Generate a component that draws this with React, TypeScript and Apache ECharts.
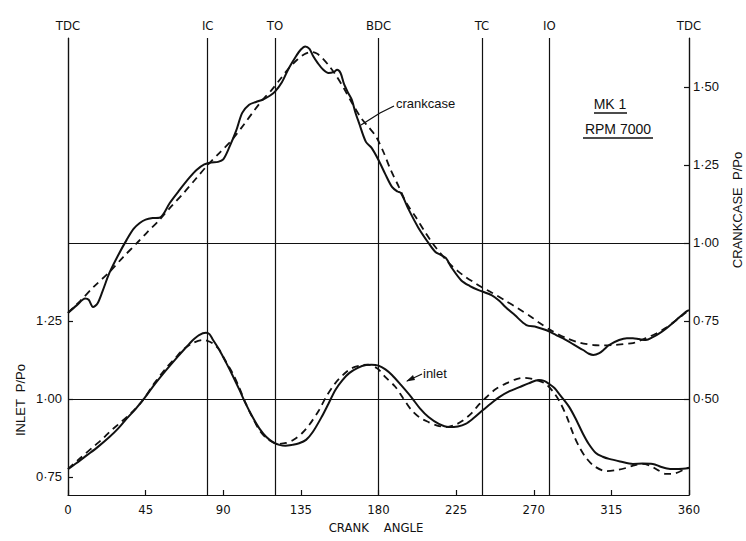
import React, { useEffect, useRef } from "react";
import * as echarts from "echarts";

// Crank angle (deg) vs pressure ratio P/Po
const crankcaseMeasured: number[][] = [
  [0, 0.776], [5, 0.8], [10, 0.822], [12, 0.818], [14.5, 0.795], [17, 0.805], [20, 0.845],
  [24, 0.904], [29, 0.96], [34, 1.01], [38, 1.045], [41.6, 1.064], [45, 1.075], [49, 1.08],
  [53, 1.081], [55, 1.09], [59, 1.128], [64.7, 1.17], [70.5, 1.21], [74.5, 1.234], [79, 1.252],
  [83, 1.258], [87, 1.26], [90, 1.268], [93.6, 1.308], [97.5, 1.36], [101, 1.417], [105, 1.443],
  [109, 1.452], [113, 1.46], [117, 1.472], [120, 1.485], [124, 1.515], [128, 1.56], [132, 1.597],
  [135, 1.62], [137.5, 1.63], [140, 1.622], [142, 1.6], [145, 1.575], [148, 1.555], [151, 1.545],
  [154, 1.548], [156, 1.555], [158, 1.545], [160, 1.51], [162.5, 1.48], [164.6, 1.458],
  [166.5, 1.42], [168.7, 1.385], [172.7, 1.324], [176, 1.305], [180, 1.266], [184, 1.22],
  [187.8, 1.18], [191, 1.165], [193, 1.16], [197.6, 1.106], [203, 1.05], [209, 1.0], [213, 0.971],
  [216, 0.962], [219, 0.952], [222.5, 0.92], [228, 0.88], [233, 0.862], [238, 0.849],
  [245.5, 0.833], [250, 0.815], [253.6, 0.795], [259, 0.769], [265.7, 0.737], [271.5, 0.731],
  [277, 0.721], [283, 0.705], [288.8, 0.689], [293, 0.675], [298.6, 0.657], [302, 0.645],
  [304.5, 0.641], [308, 0.647], [311, 0.66], [313.7, 0.673], [319.5, 0.689], [324, 0.695],
  [327.5, 0.695], [331, 0.692], [335, 0.689], [339, 0.698], [343, 0.711], [347, 0.727],
  [350.7, 0.744], [354, 0.76], [358, 0.779], [360, 0.785],
];

const crankcaseComputed: number[][] = [
  [0, 0.776], [7, 0.814], [15, 0.86], [24, 0.907], [32, 0.955], [40, 1.0], [46, 1.035],
  [53, 1.074], [60, 1.118], [67, 1.16], [74, 1.205], [81, 1.25], [88, 1.29], [95, 1.33],
  [102, 1.38], [108, 1.425], [113, 1.46], [118, 1.49], [123, 1.525], [128, 1.56], [133, 1.588],
  [137, 1.605], [141, 1.612], [144, 1.608], [147, 1.595], [151, 1.57], [155, 1.54], [160, 1.495],
  [165, 1.445], [170, 1.4], [174.5, 1.37], [178.7, 1.34], [183, 1.29], [187, 1.235],
  [191.8, 1.18], [196, 1.13], [201.6, 1.083], [207, 1.035], [213, 0.987], [220.7, 0.936],
  [226, 0.91], [230, 0.893], [235, 0.875], [239.7, 0.859], [246, 0.84], [253.6, 0.815],
  [261, 0.79], [268.6, 0.763], [273, 0.745], [280, 0.72], [289, 0.695], [297, 0.68],
  [304.5, 0.673], [310, 0.672], [316, 0.673], [322, 0.676], [327.5, 0.679], [331, 0.686],
  [335, 0.695], [341, 0.71], [346.6, 0.728], [352, 0.75], [358, 0.776], [360, 0.785],
];

const inletMeasured: number[][] = [
  [0, 0.775], [5, 0.795], [11, 0.82], [17, 0.845], [24, 0.878], [29, 0.905], [34, 0.937],
  [39, 0.967], [43.5, 0.997], [50, 1.045], [57, 1.093], [63, 1.132], [68.7, 1.167], [72, 1.187],
  [76, 1.205], [80, 1.212], [82, 1.208], [84, 1.19], [88, 1.155], [91.8, 1.115], [95, 1.08],
  [99.4, 1.029], [103, 0.985], [107, 0.942], [111, 0.905], [115, 0.878], [119, 0.861],
  [122.5, 0.853], [126, 0.85], [130, 0.853], [134, 0.858], [138, 0.869], [142, 0.895],
  [147, 0.942], [151, 0.985], [155, 1.029], [159, 1.06], [163, 1.083], [168, 1.1],
  [172.7, 1.109], [176, 1.11], [180, 1.107], [184, 1.095], [187.8, 1.077], [193, 1.045],
  [199, 1.006], [204, 0.97], [209, 0.942], [215, 0.92], [220.7, 0.91], [226, 0.912],
  [230.5, 0.92], [235, 0.938], [240, 0.962], [245, 0.985], [250, 1.006], [256, 1.025],
  [261.7, 1.038], [267, 1.05], [273, 1.061], [276, 1.058], [279, 1.048], [282, 1.035],
  [284.8, 1.016], [287.5, 0.997], [290.6, 0.974], [294, 0.94], [298.6, 0.888], [302, 0.855],
  [306, 0.827], [310, 0.815], [313.7, 0.808], [320, 0.8], [327.5, 0.792], [333, 0.793],
  [339, 0.792], [344, 0.782], [349, 0.776], [354, 0.776], [360, 0.779],
];

const inletComputed: number[][] = [
  [0, 0.776], [7, 0.81], [14.5, 0.846], [20, 0.872], [24, 0.894], [29, 0.918], [34, 0.942],
  [39, 0.968], [43.5, 0.997], [50, 1.05], [57, 1.1], [62, 1.13], [66.5, 1.157], [72, 1.178],
  [78, 1.189], [80, 1.188], [84, 1.178], [87.8, 1.157], [91, 1.125], [95.4, 1.083], [99, 1.04],
  [103, 0.987], [107, 0.94], [111, 0.9], [115, 0.875], [118.5, 0.862], [122, 0.856],
  [126.5, 0.859], [131, 0.87], [135.8, 0.891], [140, 0.918], [145.6, 0.965], [150, 1.01],
  [155, 1.051], [160, 1.08], [164.6, 1.099], [170, 1.108], [174, 1.11], [177, 1.105],
  [180, 1.095], [184, 1.07], [189.6, 1.04], [194, 1.005], [199, 0.965], [204, 0.94],
  [209, 0.926], [214, 0.915], [219, 0.91], [224, 0.916], [228.7, 0.93], [234, 0.955],
  [238.6, 0.984], [243, 1.008], [248, 1.032], [254, 1.05], [260, 1.064], [264, 1.068],
  [267.5, 1.066], [272, 1.06], [277, 1.048], [281, 1.025], [284.8, 0.994], [289, 0.945],
  [292.9, 0.888], [296.5, 0.845], [300.4, 0.811], [305, 0.785], [312, 0.769], [318, 0.772],
  [323.5, 0.779], [328, 0.787], [333, 0.792], [338, 0.785], [342, 0.772], [346.6, 0.76],
  [352, 0.762], [358, 0.776], [360, 0.78],
];

// Port timing events along the crank cycle
const events: { name: string; angle: number }[] = [
  { name: "TDC", angle: 0 },
  { name: "IC", angle: 81 },
  { name: "TO", angle: 120 },
  { name: "BDC", angle: 180 },
  { name: "TC", angle: 240 },
  { name: "IO", angle: 279 },
  { name: "TDC", angle: 360 },
];

const inletTicks = [0.75, 1.0, 1.25];
const crankcaseTicks = [0.5, 0.75, 1.0, 1.25, 1.5];
const crankcaseRefLines = [1.0, 0.5];

const INK = "#111";
const NARROW = '"DejaVu Sans Condensed", "Liberation Sans Narrow", "DejaVu Sans", sans-serif';
const SANS = '"Liberation Sans", Arial, sans-serif';

const fmt = (v: number) => v.toFixed(2).replace(".", "·");

export default function App() {
  const ref = useRef<HTMLDivElement>(null);

  useEffect(() => {
    document.body.style.margin = "0";
    if (!ref.current) return;
    const chart = echarts.init(ref.current, undefined, { renderer: "svg" });

    const solid = { color: INK, width: 2 };
    const dashed = { color: INK, width: 1.8, type: [7, 5] as number[] };

    chart.setOption({
      animation: false,
      backgroundColor: "#fff",
      grid: { left: 68, right: 57, top: 38, bottom: 46 },
      xAxis: {
        type: "value",
        min: 0,
        max: 360,
        interval: 45,
        axisLine: { lineStyle: { color: INK, width: 1.2 } },
        axisTick: { inside: true, length: 5, lineStyle: { color: INK, width: 1.2 } },
        axisLabel: { color: INK, fontSize: 13, fontFamily: NARROW, margin: 8 },
        splitLine: { show: false },
      },
      yAxis: [
        {
          type: "value",
          position: "left",
          min: 0.6923,
          max: 2.157,
          axisLine: { show: true, lineStyle: { color: INK, width: 1.2 } },
          axisTick: { show: true, inside: true, length: 5, customValues: inletTicks, lineStyle: { color: INK, width: 1.2 } },
          axisLabel: { customValues: inletTicks, formatter: fmt, color: INK, fontSize: 13, fontFamily: SANS, margin: 6 },
          splitLine: { show: false },
        },
        {
          type: "value",
          position: "right",
          min: 0.1923,
          max: 1.657,
          axisLine: { show: true, lineStyle: { color: INK, width: 1.2 } },
          axisTick: { show: true, inside: true, length: 5, customValues: crankcaseTicks, lineStyle: { color: INK, width: 1.2 } },
          axisLabel: { customValues: crankcaseTicks, formatter: fmt, color: INK, fontSize: 13, fontFamily: SANS, margin: 4 },
          splitLine: { show: false },
        },
      ],
      series: [
        {
          name: "inlet measured",
          type: "line",
          yAxisIndex: 0,
          data: inletMeasured,
          showSymbol: false,
          smooth: 0.3,
          lineStyle: solid,
          z: 3,
          markLine: {
            silent: true,
            symbol: ["none", "none"],
            lineStyle: { color: INK, width: 1.2, type: "solid" },
            label: {
              show: true,
              position: "end",
              formatter: "{b}",
              color: INK,
              fontSize: 13,
              fontFamily: NARROW,
              distance: 6,
            },
            data: events.map((e) => ({ name: e.name, xAxis: e.angle })),
          },
        },
        {
          name: "inlet computed",
          type: "line",
          yAxisIndex: 0,
          data: inletComputed,
          showSymbol: false,
          smooth: 0.3,
          lineStyle: dashed,
          z: 3,
        },
        {
          name: "crankcase measured",
          type: "line",
          yAxisIndex: 1,
          data: crankcaseMeasured,
          showSymbol: false,
          smooth: 0.3,
          lineStyle: solid,
          z: 3,
          markLine: {
            silent: true,
            symbol: ["none", "none"],
            lineStyle: { color: INK, width: 1.2, type: "solid" },
            label: { show: false },
            data: crankcaseRefLines.map((v) => ({ yAxis: v })),
          },
        },
        {
          name: "crankcase computed",
          type: "line",
          yAxisIndex: 1,
          data: crankcaseComputed,
          showSymbol: false,
          smooth: 0.3,
          lineStyle: dashed,
          z: 3,
        },
      ],
      graphic: [
        {
          type: "text",
          x: 20,
          y: 400,
          rotation: Math.PI / 2,
          style: { text: "INLET  P/Po", fontSize: 13, fontFamily: SANS, fill: INK, align: "center", verticalAlign: "middle" },
        },
        {
          type: "text",
          x: 737,
          y: 210,
          rotation: Math.PI / 2,
          style: { text: "CRANKCASE  P/Po", fontSize: 13, fontFamily: SANS, fill: INK, align: "center", verticalAlign: "middle" },
        },
        {
          type: "text",
          x: 376,
          y: 527,
          style: { text: "CRANK    ANGLE", fontSize: 13, fontFamily: NARROW, fill: INK, align: "center", verticalAlign: "middle" },
        },
        {
          type: "text",
          x: 610,
          y: 104,
          style: { text: "MK 1", fontSize: 14, fontFamily: SANS, fill: INK, align: "center", verticalAlign: "middle" },
        },
        { type: "line", shape: { x1: 594, y1: 113, x2: 627, y2: 113 }, style: { stroke: INK, lineWidth: 1.5 } },
        {
          type: "text",
          x: 618,
          y: 129,
          style: { text: "RPM 7000", fontSize: 14, fontFamily: SANS, fill: INK, align: "center", verticalAlign: "middle" },
        },
        { type: "line", shape: { x1: 583, y1: 138, x2: 653, y2: 138 }, style: { stroke: INK, lineWidth: 1.5 } },
        {
          type: "text",
          x: 396,
          y: 103,
          style: { text: "crankcase", fontSize: 13, fontFamily: SANS, fill: INK, align: "left", verticalAlign: "middle" },
        },
        { type: "polyline", shape: { points: [[394, 106], [380, 113], [361, 125]] }, style: { stroke: INK, lineWidth: 1.3, fill: "none" } },
        {
          type: "text",
          x: 423,
          y: 373,
          style: { text: "inlet", fontSize: 13, fontFamily: SANS, fill: INK, align: "left", verticalAlign: "middle" },
        },
        { type: "line", shape: { x1: 422, y1: 374, x2: 407, y2: 381 }, style: { stroke: INK, lineWidth: 1.3 } },
        { type: "polygon", shape: { points: [[406, 381.5], [413, 375], [415, 380]] }, style: { fill: INK } },
      ],
    });

    return () => chart.dispose();
  }, []);

  return <div ref={ref} style={{ width: 746, height: 541 }} />;
}
